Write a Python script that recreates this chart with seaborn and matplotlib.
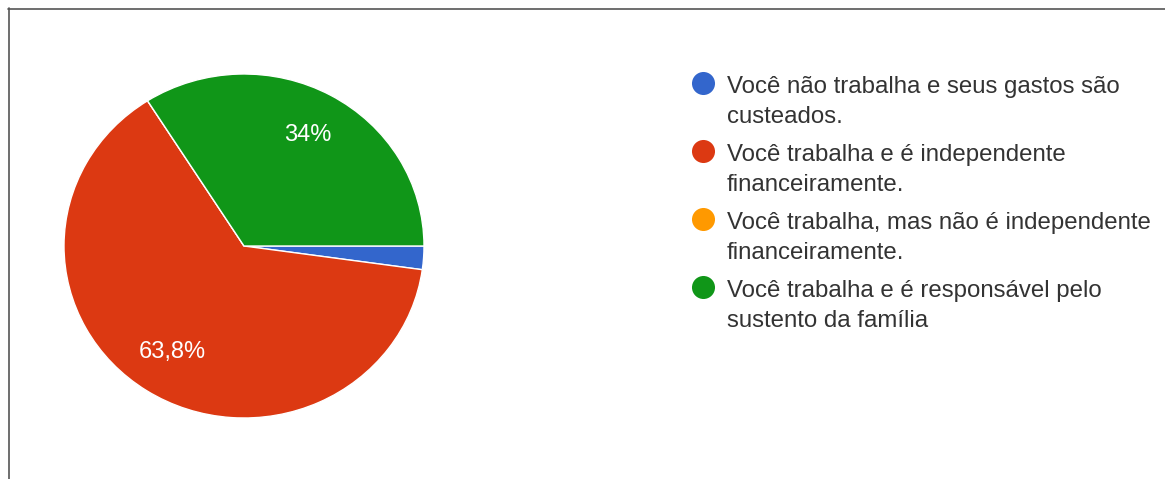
import matplotlib
matplotlib.use("Agg")
import matplotlib.pyplot as plt
import seaborn as sns

# Survey answers (legend order) and their shares in percent
categories = [
    "Você não trabalha e seus gastos são\ncusteados.",
    "Você trabalha e é independente\nfinanceiramente.",
    "Você trabalha, mas não é independente\nfinanceiramente.",
    "Você trabalha e é responsável pelo\nsustento da família",
]
shares = [2.2, 63.8, 0.0, 34.0]
slice_colors = ["#3366cc", "#dc3912", "#ff9900", "#109618"]

sns.set_style("white")
plt.rcParams["font.family"] = ["Liberation Sans", "DejaVu Sans"]
palette = sns.color_palette(slice_colors)

W, H = 1165, 479
fig = plt.figure(figsize=(W / 100, H / 100), dpi=100)
fig.patch.set_facecolor("white")


def px_axes(x0, y0, x1, y1):
    """Axes placed by pixel box (top-left origin)."""
    return fig.add_axes([x0 / W, 1 - y1 / H, (x1 - x0) / W, (y1 - y0) / H])


def pct_label(p):
    if p < 5:
        return ""
    txt = f"{p:.1f}".rstrip("0").rstrip(".")
    return txt.replace(".", ",") + "%"


ax = px_axes(64, 74, 424, 418)
wedges, texts, autotexts = ax.pie(
    shares,
    colors=palette,
    startangle=0,
    counterclock=False,
    autopct=pct_label,
    pctdistance=0.735,
    wedgeprops=dict(edgecolor="white", linewidth=1.0),
    textprops=dict(color="white", fontsize=17),
)
ax.set_aspect("auto")
ax.set_xlim(-1, 1)
ax.set_ylim(-1, 1)
ax.axis("off")

# Legend: round markers with two-line labels
leg = fig.add_axes([0, 0, 1, 1], facecolor="none")
leg.set_xlim(0, W)
leg.set_ylim(H, 0)
leg.axis("off")
marker_y = [83, 151, 219, 287]
for label, color, my in zip(categories, palette, marker_y):
    leg.scatter([703], [my], s=23 ** 2 * 0.52, color=color, linewidths=0)
    first, second = label.split("\n")
    leg.text(727, my + 10, first, fontsize=17.3, color="#333333", va="baseline", ha="left")
    leg.text(727, my + 40, second, fontsize=17.3, color="#333333", va="baseline", ha="left")

# Outer frame lines (top and left)
leg.plot([8, W], [8.5, 8.5], color="#555555", linewidth=1.2)
leg.plot([8.5, 8.5], [8, H], color="#555555", linewidth=1.2)

fig.savefig("out.png", dpi=100, facecolor="white")
